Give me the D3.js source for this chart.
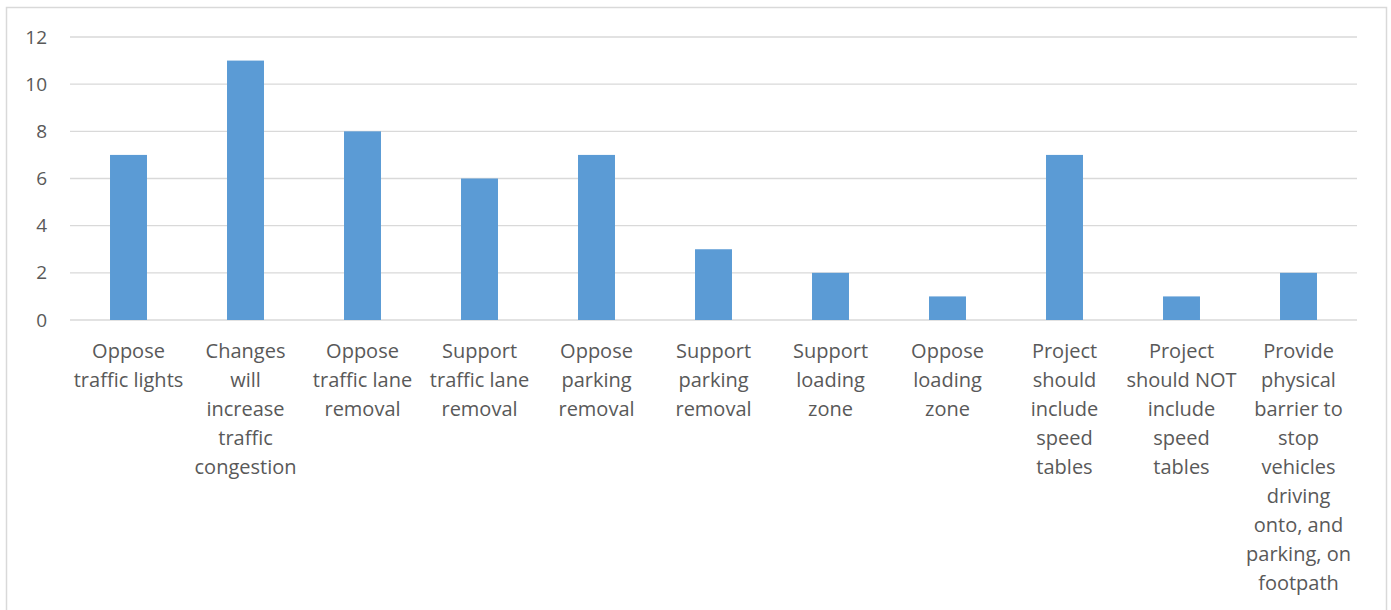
<!DOCTYPE html>
<html>
<head>
<meta charset="utf-8">
<script src="https://cdn.jsdelivr.net/npm/d3@7"></script>
<style>
  html, body { margin: 0; padding: 0; background: #fff; }
  svg { display: block; }
  text { font-family: "Open Sans", "Noto Sans", sans-serif; fill: #595959; }
</style>
</head>
<body>
<svg id="chart" width="1391" height="610"></svg>
<script>
// Comment counts by theme (line breaks mark where each category label wraps)
const categories = [
  "Oppose\ntraffic lights",
  "Changes\nwill\nincrease\ntraffic\ncongestion",
  "Oppose\ntraffic lane\nremoval",
  "Support\ntraffic lane\nremoval",
  "Oppose\nparking\nremoval",
  "Support\nparking\nremoval",
  "Support\nloading\nzone",
  "Oppose\nloading\nzone",
  "Project\nshould\ninclude\nspeed\ntables",
  "Project\nshould NOT\ninclude\nspeed\ntables",
  "Provide\nphysical\nbarrier to\nstop\nvehicles\ndriving\nonto, and\nparking, on\nfootpath"
];
const counts = [7, 11, 8, 6, 7, 3, 2, 1, 7, 1, 2];
const yTicks = [0, 2, 4, 6, 8, 10, 12];

const svg = d3.select("#chart");
const W = 1391, H = 610;
const plot = { left: 70, right: 1357, top: 37, bottom: 320 };

// Chart frame (open at the bottom edge)
svg.append("path")
  .attr("d", `M6.5,${H + 2} V7.5 H1386.5 V${H + 2}`)
  .attr("fill", "none")
  .attr("stroke", "#d9d9d9")
  .attr("stroke-width", 1.5);

const x = d3.scaleBand()
  .domain(categories)
  .range([plot.left, plot.right])
  .paddingInner(0)
  .paddingOuter(0);

const y = d3.scaleLinear()
  .domain([0, 12])
  .range([plot.bottom, plot.top]);

// Horizontal gridlines
svg.append("g")
  .selectAll("line")
  .data(yTicks)
  .join("line")
  .attr("x1", plot.left)
  .attr("x2", plot.right)
  .attr("y1", d => y(d))
  .attr("y2", d => y(d))
  .attr("stroke", "#d9d9d9")
  .attr("stroke-width", 1.3);

// Y axis labels
const yAxis = d3.axisLeft(y).tickValues(yTicks).tickSize(0).tickPadding(0);
const gy = svg.append("g")
  .attr("transform", `translate(47,0)`)
  .call(yAxis);
gy.select(".domain").remove();
gy.selectAll("text")
  .style("font-family", '"Open Sans", "Noto Sans", sans-serif')
  .style("font-size", "19px")
  .attr("fill", "#595959");

// Bars
const barFrac = 0.316;
svg.append("g")
  .selectAll("rect")
  .data(categories.map((c, i) => ({ c, v: counts[i] })))
  .join("rect")
  .attr("x", d => x(d.c) + x.bandwidth() * (1 - barFrac) / 2)
  .attr("width", x.bandwidth() * barFrac)
  .attr("y", d => y(d.v))
  .attr("height", d => y(0) - y(d.v))
  .attr("fill", "#5b9bd5");

// Category labels, wrapped
const lineH = 29;
const labels = svg.append("g")
  .selectAll("text")
  .data(categories)
  .join("text")
  .attr("text-anchor", "middle")
  .style("font-size", "20px")
  .attr("transform", d => `translate(${x(d) + x.bandwidth() / 2},${plot.bottom + 38})`);
labels.selectAll("tspan")
  .data(d => d.split("\n"))
  .join("tspan")
  .attr("x", 0)
  .attr("y", (d, i) => i * lineH)
  .text(d => d);
</script>
</body>
</html>
